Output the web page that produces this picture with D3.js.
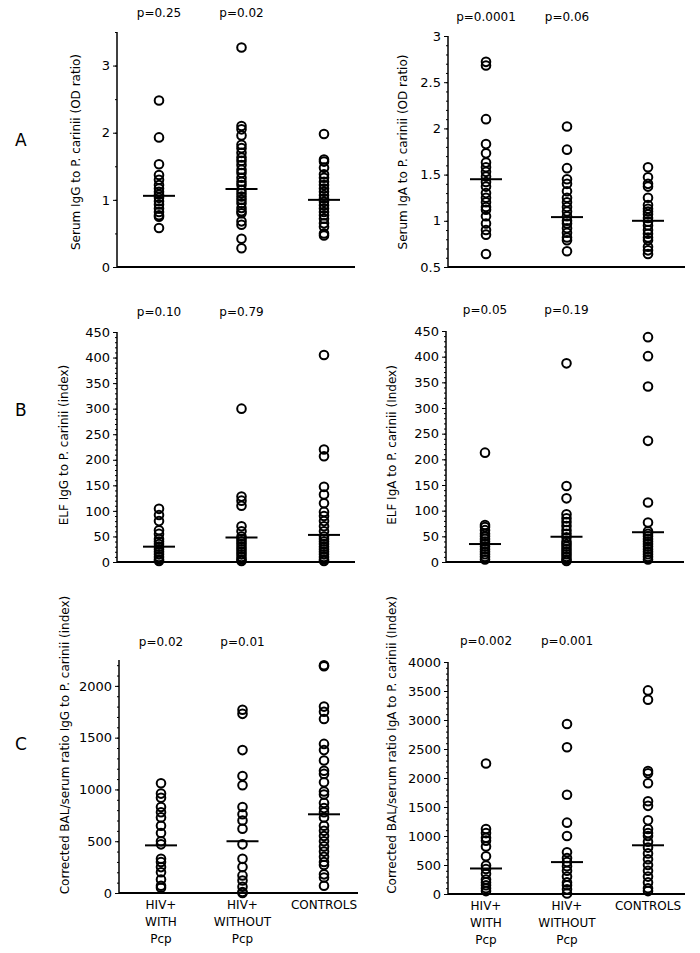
<!DOCTYPE html>
<meta charset="utf-8">
<script src="https://d3js.org/d3.v7.min.js"></script>
<style>
  body { margin: 0; background: #fff; }
  text { font-family: "DejaVu Sans", sans-serif; fill: #000; }
</style>
<div id="my_dataviz"></div>
<script>

// groups on the x axis
var groups = ["HIV+ WITH Pcp", "HIV+ WITHOUT Pcp", "CONTROLS"];
var groupLines = [["HIV+", "WITH", "Pcp"], ["HIV+", "WITHOUT", "Pcp"], ["CONTROLS"]];

// A: serum IgG / IgA (OD ratio)
var serumIgG = [
  [2.48, 1.93, 1.53, 1.37, 1.30, 1.22, 1.17, 1.12, 1.08, 1.03, 0.98, 0.93, 0.87, 0.82, 0.77, 0.75, 0.58],
  [3.27, 2.10, 2.05, 1.96, 1.82, 1.77, 1.70, 1.63, 1.58, 1.52, 1.45, 1.40, 1.33, 1.27, 1.22, 1.15, 1.10, 1.05, 1.00, 0.95, 0.88, 0.83, 0.80, 0.68, 0.63, 0.42, 0.28],
  [1.98, 1.60, 1.57, 1.48, 1.38, 1.33, 1.27, 1.22, 1.17, 1.12, 1.07, 1.02, 0.97, 0.92, 0.87, 0.82, 0.77, 0.72, 0.65, 0.60, 0.50, 0.47]
];
var serumIgGMed = [1.06, 1.16, 1.0];
var serumIgGP = ["p=0.25", "p=0.02"];

var serumIgA = [
  [2.72, 2.68, 2.10, 1.83, 1.73, 1.63, 1.58, 1.53, 1.48, 1.42, 1.37, 1.30, 1.25, 1.20, 1.15, 1.12, 1.05, 0.97, 0.90, 0.85, 0.64],
  [2.02, 1.77, 1.57, 1.45, 1.40, 1.32, 1.25, 1.20, 1.15, 1.10, 1.05, 1.00, 0.97, 0.92, 0.87, 0.82, 0.79, 0.67],
  [1.58, 1.47, 1.40, 1.37, 1.25, 1.17, 1.13, 1.10, 1.07, 1.03, 0.99, 0.95, 0.90, 0.86, 0.82, 0.79, 0.72, 0.68, 0.64]
];
var serumIgAMed = [1.45, 1.04, 1.0];
var serumIgAP = ["p=0.0001", "p=0.06"];

// B: ELF IgG / IgA (index)
var elfIgG = [
  [104, 92, 80, 62, 55, 45, 40, 35, 30, 25, 20, 15, 10, 5, 2],
  [300, 128, 120, 110, 70, 60, 50, 45, 40, 35, 30, 25, 20, 15, 10, 5, 2],
  [405, 220, 207, 147, 132, 115, 98, 90, 80, 70, 60, 50, 45, 40, 35, 30, 25, 20, 15, 10, 5, 2]
];
var elfIgGMed = [30, 48, 53];
var elfIgGP = ["p=0.10", "p=0.79"];

var elfIgA = [
  [213, 72, 68, 62, 55, 50, 45, 40, 35, 30, 25, 20, 15, 10, 5],
  [387, 148, 124, 93, 85, 78, 70, 62, 55, 48, 40, 35, 30, 25, 20, 15, 10, 5, 2],
  [438, 401, 342, 236, 116, 77, 60, 55, 50, 45, 40, 35, 30, 25, 20, 15, 10, 5]
];
var elfIgAMed = [35, 49, 58];
var elfIgAP = ["p=0.05", "p=0.19"];

// C: corrected BAL/serum ratio (index)
var balIgG = [
  [1060, 960, 920, 830, 780, 730, 650, 580, 500, 470, 330, 300, 250, 200, 130, 70, 50],
  [1770, 1730, 1380, 1130, 1040, 830, 760, 700, 620, 470, 330, 250, 170, 120, 60, 10, 0],
  [2200, 2190, 1800, 1750, 1680, 1440, 1380, 1280, 1180, 1150, 1070, 980, 950, 870, 820, 780, 730, 650, 600, 550, 500, 450, 400, 350, 300, 270, 180, 150, 70]
];
var balIgGMed = [460, 500, 760];
var balIgGP = ["p=0.02", "p=0.01"];

var balIgA = [
  [2250, 1120, 1050, 970, 920, 820, 650, 490, 430, 350, 250, 200, 150, 100, 50],
  [2930, 2530, 1710, 1230, 1000, 720, 620, 550, 480, 400, 300, 200, 150, 80, 10],
  [3510, 3350, 2120, 2080, 1910, 1600, 1520, 1270, 1120, 1050, 1000, 900, 800, 700, 600, 500, 400, 300, 200, 100, 50]
];
var balIgAMed = [440, 550, 840];
var balIgAP = ["p=0.002", "p=0.001"];

var svg = d3.select("#my_dataviz")
  .append("svg")
    .attr("width", 700)
    .attr("height", 953);

// panel letters
svg.append("text").attr("x", 15).attr("y", 146).attr("font-size", 17).text("A");
svg.append("text").attr("x", 15).attr("y", 416).attr("font-size", 17).text("B");
svg.append("text").attr("x", 15).attr("y", 750).attr("font-size", 17).text("C");

function panel(o) {
  var g = svg.append("g");
  var y = d3.scaleLinear().domain(o.domain).range([o.bottom, o.top]);
  var x = d3.scalePoint().domain(groups).range(o.cols);

  // y axis, minor ticks then major ticks
  var minor = d3.range(o.domain[0], o.domain[1] + 1e-9, o.minor);
  g.append("g")
    .attr("transform", "translate(" + o.left + ",0)")
    .call(d3.axisLeft(y).tickValues(minor).tickSize(2).tickFormat(""))
    .call(function(a) { a.select(".domain").remove(); });
  var ax = g.append("g")
    .attr("transform", "translate(" + o.left + ",0)")
    .call(d3.axisLeft(y).tickValues(o.ticks).tickSize(4).tickPadding(3).tickFormat(d3.format("")))
  ax.select(".domain").attr("stroke-width", 1.5).attr("d", "M0," + o.bottom + "V" + o.top);
  ax.selectAll("text").attr("font-size", 13).style("font-family", "DejaVu Sans");

  // x axis line
  g.append("line")
    .attr("x1", o.left).attr("x2", o.right)
    .attr("y1", o.bottom).attr("y2", o.bottom)
    .attr("stroke", "#000").attr("stroke-width", 2);

  // y label
  g.append("text")
    .attr("transform", "translate(" + o.labelX + "," + o.labelY + ") rotate(-90)")
    .attr("text-anchor", "middle")
    .attr("font-size", 12)
    .text(o.label);

  // p values
  g.selectAll(".pv").data(o.p).enter().append("text")
    .attr("x", function(d, i) { return x(groups[i]); })
    .attr("y", o.pY)
    .attr("text-anchor", "middle")
    .attr("font-size", 12)
    .text(function(d) { return d; });

  // points
  o.data.forEach(function(vals, i) {
    g.append("g").selectAll("circle").data(vals).enter().append("circle")
      .attr("cx", x(groups[i]))
      .attr("cy", function(d) { return y(d); })
      .attr("r", 4.3)
      .attr("fill", "none")
      .attr("stroke", "#000")
      .attr("stroke-width", 2);
  });

  // medians
  g.selectAll(".med").data(o.med).enter().append("line")
    .attr("x1", function(d, i) { return x(groups[i]) - 16; })
    .attr("x2", function(d, i) { return x(groups[i]) + 16; })
    .attr("y1", function(d) { return y(d); })
    .attr("y2", function(d) { return y(d); })
    .attr("stroke", "#000").attr("stroke-width", 2);

  // category labels under the bottom row
  if (o.cats) {
    groupLines.forEach(function(lines, i) {
      lines.forEach(function(t, j) {
        g.append("text")
          .attr("x", x(groups[i]))
          .attr("y", o.bottom + 16 + j * 17)
          .attr("text-anchor", "middle")
          .attr("font-size", 12)
          .text(t);
      });
    });
  }
}

panel({ data: serumIgG, med: serumIgGMed, p: serumIgGP, domain: [0, 3.5], ticks: [0, 1, 2, 3], minor: 0.5,
  left: 117, right: 355, top: 32, bottom: 267, cols: [159, 324], pY: 17,
  label: "Serum IgG to P. carinii (OD ratio)", labelX: 80, labelY: 152 });
panel({ data: serumIgA, med: serumIgAMed, p: serumIgAP, domain: [0.5, 3], ticks: [0.5, 1, 1.5, 2, 2.5, 3], minor: 0.1,
  left: 448, right: 685, top: 36, bottom: 267, cols: [486, 648], pY: 21,
  label: "Serum IgA to P. carinii (OD ratio)", labelX: 407, labelY: 152 });
panel({ data: elfIgG, med: elfIgGMed, p: elfIgGP, domain: [0, 450], ticks: d3.range(0, 451, 50), minor: 10,
  left: 117, right: 355, top: 332, bottom: 562, cols: [159, 324], pY: 316,
  label: "ELF IgG to P. carinii (index)", labelX: 68, labelY: 445 });
panel({ data: elfIgA, med: elfIgAMed, p: elfIgAP, domain: [0, 450], ticks: d3.range(0, 451, 50), minor: 10,
  left: 446, right: 684, top: 331, bottom: 562, cols: [485, 648], pY: 314,
  label: "ELF IgA to P. carinii (Index)", labelX: 396, labelY: 445 });
panel({ data: balIgG, med: balIgGMed, p: balIgGP, domain: [0, 2250], ticks: [0, 500, 1000, 1500, 2000], minor: 100,
  left: 119, right: 358, top: 660, bottom: 893, cols: [161, 324], pY: 646, cats: true,
  label: "Corrected BAL/serum ratio IgG to P. carinii (index)", labelX: 69, labelY: 745 });
panel({ data: balIgA, med: balIgAMed, p: balIgAP, domain: [0, 4000], ticks: d3.range(0, 4001, 500), minor: 100,
  left: 448, right: 685, top: 662, bottom: 894, cols: [486, 648], pY: 645, cats: true,
  label: "Corrected BAL/serum ratio IgA to P. carinii (Index)", labelX: 396, labelY: 745 });
</script>
